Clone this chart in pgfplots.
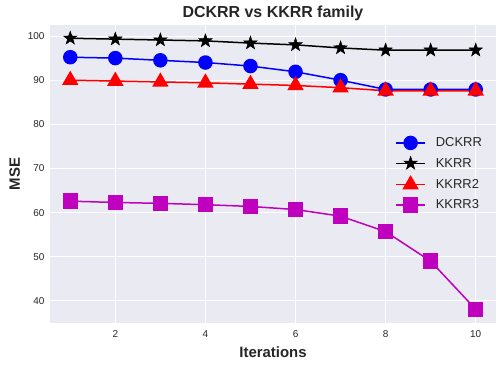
\documentclass[border=0pt]{standalone}
\usepackage{fontspec}
\setmainfont{Liberation Sans}
\usepackage{pgfplots}
\pgfplotsset{compat=1.18}
\definecolor{bgc}{HTML}{EAEAF2}
\definecolor{txt}{HTML}{262626}
\definecolor{mag}{rgb}{0.75,0,0.75}

% filled five-pointed star
\pgfdeclareplotmark{fstar}{%
  \pgfpathmoveto{\pgfpointpolar{90}{\pgfplotmarksize}}%
  \pgfpathlineto{\pgfpointpolar{126}{0.4\pgfplotmarksize}}%
  \pgfpathlineto{\pgfpointpolar{162}{\pgfplotmarksize}}%
  \pgfpathlineto{\pgfpointpolar{198}{0.4\pgfplotmarksize}}%
  \pgfpathlineto{\pgfpointpolar{234}{\pgfplotmarksize}}%
  \pgfpathlineto{\pgfpointpolar{270}{0.4\pgfplotmarksize}}%
  \pgfpathlineto{\pgfpointpolar{306}{\pgfplotmarksize}}%
  \pgfpathlineto{\pgfpointpolar{342}{0.4\pgfplotmarksize}}%
  \pgfpathlineto{\pgfpointpolar{18}{\pgfplotmarksize}}%
  \pgfpathlineto{\pgfpointpolar{54}{0.4\pgfplotmarksize}}%
  \pgfpathclose
  \pgfusepathqfillstroke
}

\begin{document}
\begin{tikzpicture}
\begin{axis}[
  scale only axis, width=446bp, height=298bp,
  xmin=0.55, xmax=10.45, ymin=35, ymax=102.5,
  xtick={2,4,6,8,10}, ytick={40,50,...,100},
  axis background/.style={fill=bgc},
  axis line style={draw=none},
  grid=major, major grid style={white, line width=1bp},
  major tick length=0pt,
  tick label style={font=\fontsize{10}{11}\selectfont, text=txt},
  xticklabel style={yshift=-4bp},
  yticklabel style={xshift=-2bp},
  /pgf/number format/assume math mode=true,
  title={DCKRR vs KKRR family},
  title style={font=\fontsize{16}{18}\selectfont\bfseries, text=txt, yshift=-5bp},
  xlabel={Iterations}, ylabel={MSE},
  label style={font=\fontsize{15}{17}\selectfont\bfseries, text=txt},
  xlabel style={yshift=-2bp},
  ylabel style={yshift=1bp},
  legend style={draw=none, fill=none, at={(0.98,0.5)}, anchor=east,
    font=\fontsize{13}{15}\selectfont, text=txt, row sep=6bp, column sep=8bp},
  legend cell align=left,
  legend image code/.code={
    \draw[mark repeat=2, mark phase=2, line width=1.5bp, #1] plot coordinates {(0bp,0bp) (14.5bp,0bp) (29bp,0bp)};
  },
]
\addplot[blue, line width=1.5bp, mark=*, mark size=6.5bp] coordinates {
  (1,95.2) (2,95.0) (3,94.5) (4,94.0) (5,93.2) (6,91.9) (7,90.0) (8,87.9) (9,87.9) (10,87.9)
};
\addlegendentry{DCKRR}
\addplot[black, line width=1.5bp, mark=fstar, mark size=7bp, mark options={fill=black, line width=0.5bp}] coordinates {
  (1,99.5) (2,99.3) (3,99.1) (4,98.9) (5,98.4) (6,98.0) (7,97.3) (8,96.8) (9,96.8) (10,96.8)
};
\addlegendentry{KKRR}
\addplot[red, line width=1.5bp, mark=triangle*, mark size=8bp] coordinates {
  (1,90.0) (2,89.8) (3,89.6) (4,89.4) (5,89.1) (6,88.8) (7,88.3) (8,87.6) (9,87.6) (10,87.6)
};
\addlegendentry{KKRR2}
\addplot[mag, line width=1.5bp, mark=square*, mark size=7bp] coordinates {
  (1,62.6) (2,62.3) (3,62.1) (4,61.8) (5,61.4) (6,60.7) (7,59.2) (8,55.7) (9,49.0) (10,38.1)
};
\addlegendentry{KKRR3}
\end{axis}
\pgfresetboundingbox
\path[use as bounding box] ([shift={(-50bp,-44bp)}]current axis.south west) rectangle ([shift={(7bp,25bp)}]current axis.north east);
\end{tikzpicture}
\end{document}
